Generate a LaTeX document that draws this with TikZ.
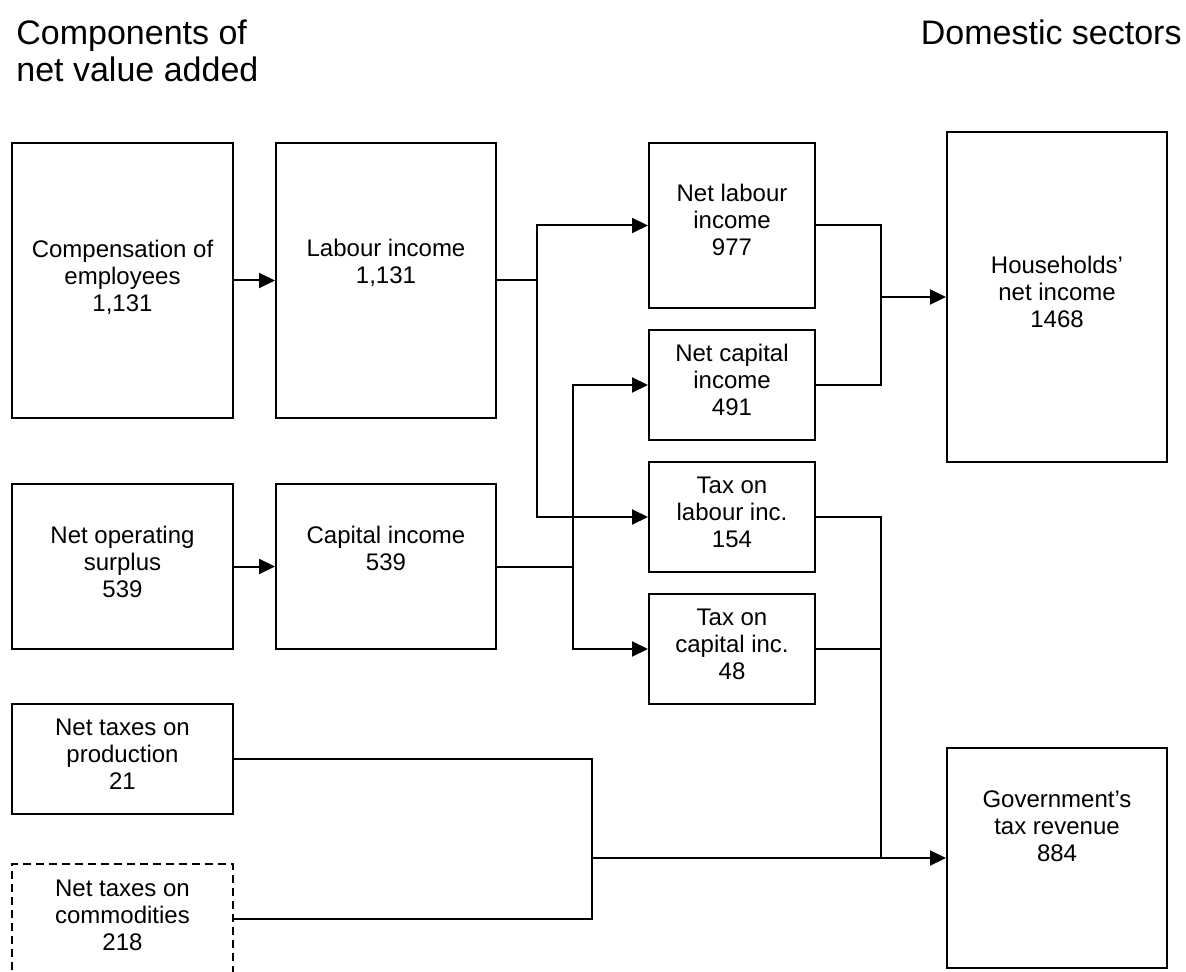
\documentclass[tikz,border=0pt]{standalone}
\usepackage{fontspec}
\setmainfont{Liberation Sans}
\usetikzlibrary{fit,arrows.meta}
\begin{document}
\begin{tikzpicture}[x=0.5pt,y=-0.5pt,
  box/.style={draw, line width=1pt, inner sep=0pt},
  dbox/.style={box, dash pattern=on 4pt off 2.5pt},
  txt/.style={inner sep=0pt, align=center, font=\fontsize{12}{13.5}\selectfont},
  ttl/.style={inner sep=0pt, align=left, font=\fontsize{17}{19}\selectfont},
  con/.style={line width=1pt},
  arr/.style={line width=1pt, -{Triangle[length=8pt,width=7.5pt]}}]
\clip (0,0) rectangle (1186,972);
\fill[white] (0,0) rectangle (1186,972);
% titles
\node[ttl, anchor=base west] (t1) at (16,45) {Components of};
\node[ttl, anchor=base west] (t2) at (16,82) {net value added};
\node[ttl, anchor=base east] (t3) at (1182,45) {Domestic sectors};
% boxes
\node[box, fit={(12,143) (233,418)}] (comp) {};
\node[box, fit={(276,143) (496,418)}] (lab) {};
\node[box, fit={(649,143) (815,308)}] (netlab) {};
\node[box, fit={(649,330) (815,440)}] (netcap) {};
\node[box, fit={(649,462) (815,572)}] (taxlab) {};
\node[box, fit={(649,594) (815,704)}] (taxcap) {};
\node[box, fit={(947,132) (1167,462)}] (hh) {};
\node[box, fit={(12,484) (233,649)}] (netop) {};
\node[box, fit={(276,484) (496,649)}] (cap) {};
\node[box, fit={(12,704) (233,814)}] (prod) {};
\node[dbox, fit={(12,864) (233,974)}] (comm) {};
\node[box, fit={(947,748) (1167,968)}] (gov) {};
% texts
\node[txt] (comp-t) at (122.5,277) {Compensation of\\employees\\1,131};
\node[txt] (lab-t) at (386,263) {Labour income\\1,131};
\node[txt] (netlab-t) at (732,220) {Net labour\\income\\977};
\node[txt] (netcap-t) at (732,380) {Net capital\\income\\491};
\node[txt] (taxlab-t) at (732,512) {Tax on\\labour inc.\\154};
\node[txt] (taxcap-t) at (732,644) {Tax on\\capital inc.\\48};
\node[txt] (hh-t) at (1057,292) {Households’\\net income\\1468};
\node[txt] (netop-t) at (122.5,562) {Net operating\\surplus\\539};
\node[txt] (cap-t) at (386,548) {Capital income\\539};
\node[txt] (prod-t) at (122.5,754) {Net taxes on\\production\\21};
\node[txt] (comm-t) at (122.5,915) {Net taxes on\\commodities\\218};
\node[txt] (gov-t) at (1057,826) {Government’s\\tax revenue\\884};
% junction columns
\coordinate (j1) at (537,0);
\coordinate (j2) at (573,0);
\coordinate (m1) at (881,0);
\coordinate (m2) at (592,0);
\coordinate (g1) at (592,858);
% connectors
\draw[arr] (comp) -- (lab);
\draw[arr] (netop) -- (cap);
\draw[arr] (lab.east) -- (lab.east -| j1) |- (netlab.west);
\draw[arr] (lab.east -| j1) |- (taxlab.west);
\draw[arr] (cap.east) -- (cap.east -| j2) |- (netcap.west);
\draw[arr] (cap.east -| j2) |- (taxcap.west);
\draw[con] (netlab.east) -| (netcap.east -| m1) -- (netcap.east);
\draw[arr] (hh.west -| m1) -- (hh.west);
\draw[con] (taxlab.east) -| (gov.west -| m1);
\draw[con] (taxcap.east) -- (taxcap.east -| m1);
\draw[con] (prod.east) -| (comm.east -| m2) -- (comm.east);
\draw[arr] (g1) -- (gov.west);
\end{tikzpicture}
\end{document}
